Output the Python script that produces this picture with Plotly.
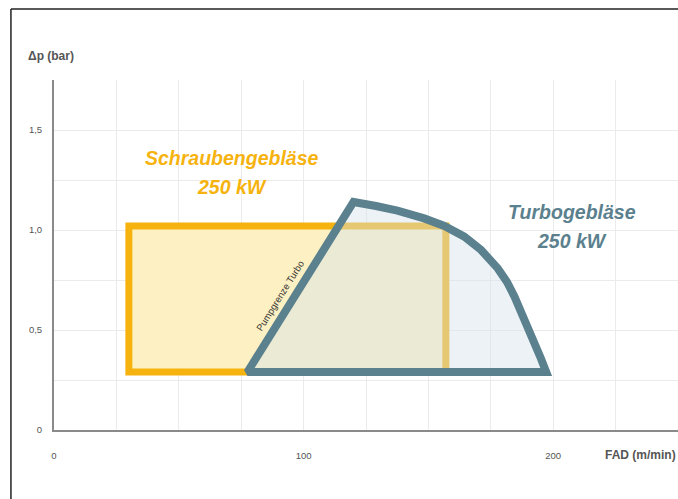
import plotly.graph_objects as go

# Operating envelope of the screw blower (rectangle in FAD / pressure);
# the outline runs once more along the first edge so every corner gets a join
screw_fad = [30, 157, 157, 30, 30, 157]
screw_dp = [0.29, 0.29, 1.02, 1.02, 0.29, 0.29]

# Operating envelope of the turbo blower (surge line, then map limit curve)
turbo_fad = [77.5, 120, 129, 137.6, 148.3, 156.4, 164.4, 171.1, 177.8,
             181.5, 184.5, 188.5, 192.5, 195, 197.2, 77.5, 120]
turbo_dp = [0.29, 1.14, 1.12, 1.097, 1.058, 1.02, 0.967, 0.90, 0.808,
            0.74, 0.667, 0.558, 0.433, 0.36, 0.29, 0.29, 1.14]

x_ticks = [0, 25, 50, 75, 100, 125, 150, 175, 200, 225, 250]
x_labels = ["0", "", "", "", "100", "", "", "", "200", "", ""]
y_ticks = [0, 0.25, 0.5, 0.75, 1.0, 1.25, 1.5, 1.75]
y_labels = ["0", "", "0,5", "", "1,0", "", "1,5", ""]

YELLOW = "#f6b30f"
YELLOW_FILL = "#fdf0c2"
TEAL = "#5b808e"
TEAL_FILL = "rgba(212,226,234,0.45)"

fig = go.Figure()
fig.add_trace(go.Scatter(
    x=screw_fad, y=screw_dp, mode="lines", fill="toself",
    fillcolor=YELLOW_FILL, line=dict(color=YELLOW, width=7),
    hoverinfo="skip", showlegend=False,
))
fig.add_trace(go.Scatter(
    x=turbo_fad, y=turbo_dp, mode="lines", fill="toself",
    fillcolor=TEAL_FILL, line=dict(color=TEAL, width=8),
    hoverinfo="skip", showlegend=False,
))

label_font = dict(family="Liberation Sans, Arial, sans-serif",
                  size=19.5, weight="bold", style="italic")

# Series labels, one annotation per line
for text, x, y, color in [
    ("Schraubengebläse", 71.3, 1.36, YELLOW),
    ("250 kW", 71.3, 1.215, YELLOW),
    ("Turbogebläse", 207.5, 1.09, TEAL),
    ("250 kW", 207.5, 0.945, TEAL),
]:
    fig.add_annotation(x=x, y=y, xref="x", yref="y", showarrow=False,
                       text=text, font=dict(color=color, **label_font))

fig.add_annotation(x=90.5, y=0.675, xref="x", yref="y", showarrow=False,
                   text="Pumpgrenze Turbo", textangle=-58,
                   font=dict(family="Liberation Sans, sans-serif", size=9.5, color="#333333"))

# Axis titles
fig.add_annotation(x=-0.045, y=1.093, xref="paper", yref="paper", showarrow=False,
                   text="Δp (bar)", xanchor="left",
                   font=dict(family="Liberation Sans, sans-serif", size=12,
                             color="#555555", weight="bold"))
fig.add_annotation(x=1.0, y=-0.072, xref="paper", yref="paper", showarrow=False,
                   text="FAD (m/min)", xanchor="right", yanchor="middle",
                   font=dict(family="Liberation Sans, sans-serif", size=12,
                             color="#555555", weight="bold"))

# Thin frame along the left and top edges
fig.add_shape(type="line", xref="paper", yref="paper",
              x0=-0.069, x1=-0.069, y0=1.203, y1=-0.25,
              line=dict(color="#222222", width=1.5))
fig.add_shape(type="line", xref="paper", yref="paper",
              x0=-0.069, x1=1.05, y0=1.203, y1=1.203,
              line=dict(color="#222222", width=1.5))

axis_font = dict(family="Liberation Sans, sans-serif", size=9.5, color="#555555")
fig.update_xaxes(
    range=[0, 250], tickvals=x_ticks, ticktext=x_labels,
    showgrid=True, gridcolor="#ebebeb", gridwidth=1,
    showline=True, linecolor="#8a8a8a", linewidth=2,
    ticks="outside", ticklen=16, tickcolor="rgba(0,0,0,0)",
    tickfont=axis_font, zeroline=False, fixedrange=True,
)
fig.update_yaxes(
    range=[0, 1.75], tickvals=y_ticks, ticktext=y_labels,
    showgrid=True, gridcolor="#ebebeb", gridwidth=1,
    showline=True, linecolor="#8a8a8a", linewidth=2,
    ticks="outside", ticklen=8, tickcolor="rgba(0,0,0,0)",
    tickfont=axis_font, zeroline=False, fixedrange=True,
)

fig.update_layout(
    width=678, height=499,
    margin=dict(l=54, r=0, t=80, b=69),
    plot_bgcolor="white", paper_bgcolor="white",
    separators=", ",
    showlegend=False,
)

fig.write_html("out.html")
